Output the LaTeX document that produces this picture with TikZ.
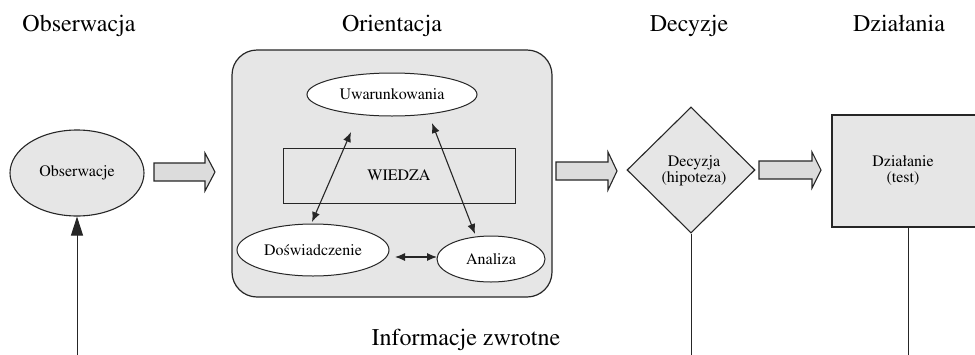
\documentclass[tikz,border=0pt]{standalone}
\usepackage[T1]{fontenc}
\usepackage{times}
\usetikzlibrary{shapes.geometric,arrows.meta}
\definecolor{boxgray}{HTML}{E6E6E6}
\definecolor{arrgray}{HTML}{DCDCDC}
\definecolor{edgec}{HTML}{262626}
\begin{document}
\begin{tikzpicture}[x=1pt,y=-1pt,
  head/.style={font=\fontsize{24}{28}\selectfont, anchor=base, inner sep=0pt},
  inner/.style={font=\fontsize{16}{18}\selectfont, align=center},
  oval/.style={ellipse, draw=edgec, line width=1pt, inner sep=0pt, font=\fontsize{16}{18}\selectfont},
  blockarrow/.style={draw=edgec, fill=arrgray, line width=1.1pt, line join=miter},
  dbl/.style={{Latex[length=10pt,width=8pt]}-{Latex[length=10pt,width=8pt]}, line width=1.1pt, draw=edgec},
  plainline/.style={draw=edgec, line width=1pt}
]
\useasboundingbox (0,0) rectangle (975,354);
% headers
\node[head] (h1) at (79,31) {Obserwacja};
\node[head] (h2) at (392,31) {Orientacja};
\node[head] (h3) at (689,31) {Decyzje};
\node[head] (h4) at (899,31) {Dzia\l{}ania};
\node[head] (h5) at (466,345) {Informacje zwrotne};
% observation
\node[oval, fill=boxgray, line width=1.1pt, minimum width=134pt, minimum height=86pt] (obs) at (77,173) {Obserwacje};
% orientation box
\node[draw=edgec, fill=boxgray, line width=1.2pt, rounded corners=25pt, minimum width=320pt, minimum height=247pt, inner sep=0pt] (orient) at (392,173.5) {};
\node[oval, fill=white, minimum width=170pt, minimum height=43pt] (uwar) at (392,94.5) {Uwarunkowania};
\node[draw=edgec, line width=1pt, minimum width=232pt, minimum height=55pt, inner sep=0pt, font=\fontsize{16}{18}\selectfont] (wiedza) at (399,175.5) {WIEDZA};
\node[oval, fill=white, minimum width=152pt, minimum height=52pt] (dosw) at (313,250) {Do\'swiadczenie};
\node[oval, fill=white, minimum width=108pt, minimum height=46pt] (anal) at (491,259) {Analiza};
% inner arrows
\coordinate (a1s) at (312,222);
\coordinate (a1e) at (351,132);
\coordinate (a2s) at (432,123);
\coordinate (a2e) at (475,234);
\coordinate (a3s) at (395,257);
\coordinate (a3e) at (437,257);
\draw[dbl] (a1s) -- (a1e);
\draw[dbl] (a2s) -- (a2e);
\draw[dbl] (a3s) -- (a3e);
% decision
\node[diamond, draw=edgec, fill=boxgray, line width=1.1pt, minimum width=128pt, minimum height=126pt, inner sep=0pt, aspect=1] (dec) at (691,170) {};
\node[inner] (dect) at (694,171) {Decyzja\\[-2pt](hipoteza)};
% action
\node[draw=edgec, fill=boxgray, line width=1.2pt, minimum width=152pt, minimum height=112pt, inner sep=0pt] (act) at (908,171) {};
\node[inner] (actt) at (903,171) {Dzia\l{}anie\\[-2pt](test)};
% block arrows
\draw[blockarrow] (154,163) -- (205,163) -- (205,153) -- (215,172) -- (205,191) -- (205,181) -- (154,181) -- cycle;
\draw[blockarrow] (556,162) -- (608,162) -- (608,152) -- (617,171) -- (608,190) -- (608,180) -- (556,180) -- cycle;
\draw[blockarrow] (759,161) -- (812,161) -- (812,152) -- (821,170) -- (812,188) -- (812,179) -- (759,179) -- cycle;
% feedback lines
\coordinate (fb1) at (77,360);
\coordinate (fb2) at (691,360);
\coordinate (fb3) at (908,360);
\draw[plainline, -{Triangle[length=19pt,width=12pt]}] (fb1) -- (obs.south);
\draw[plainline] (dec.south) -- (fb2);
\draw[plainline] (act.south) -- (fb3);
\end{tikzpicture}
\end{document}
